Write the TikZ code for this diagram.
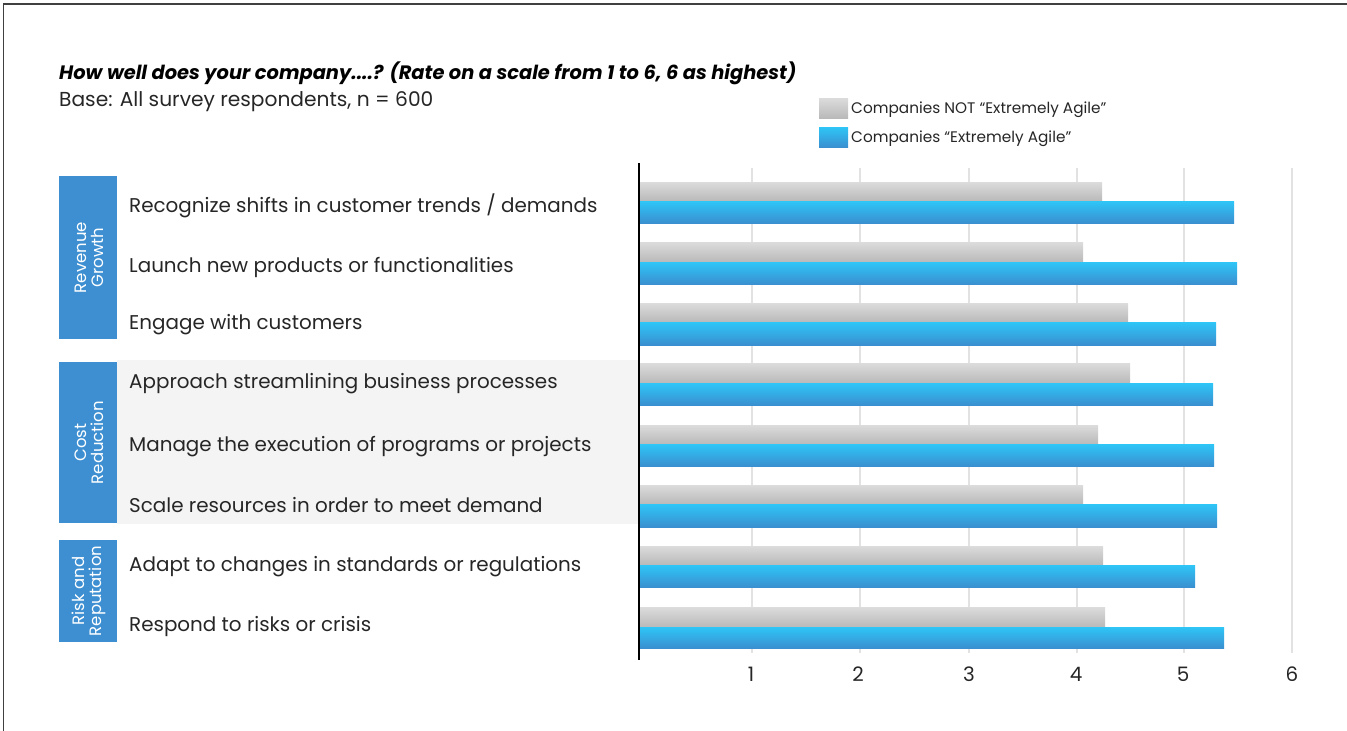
\documentclass[tikz,border=0pt]{standalone}
\usepackage{fontspec}
\setmainfont{Poppins}
\usepackage{tikz}
\usetikzlibrary{positioning}

\definecolor{groupblue}{HTML}{3D8FD1}
\definecolor{bluetop}{HTML}{2EC6F7}
\definecolor{bluebot}{HTML}{3A8FD0}
\definecolor{greytop}{HTML}{DCDCDC}
\definecolor{greybot}{HTML}{B9B9B9}
\definecolor{bandgrey}{HTML}{F4F4F4}
\definecolor{gridgrey}{HTML}{E2E2E2}

\begin{document}
\begin{tikzpicture}[x=1pt, y=-1pt]
\def\labelfontsize{\fontsize{19.9}{23}\selectfont}
\def\groupfontsize{\fontsize{16.5}{17}\selectfont}
\def\axisx{640}
\tikzset{
  rowlabel/.style={anchor=base west, inner sep=0pt, font=\labelfontsize, text=black!85},
  grouplabel/.style={rotate=90, align=center, inner sep=0pt, font=\groupfontsize, text=white},
  greybar/.style={top color=greytop, bottom color=greybot},
  bluebar/.style={top color=bluetop, bottom color=bluebot},
  ticklabel/.style={anchor=base, inner sep=0pt, font=\labelfontsize, text=black!85},
}
\useasboundingbox (0, 0) rectangle (1347, 731);

% frame (top and left only)
\draw[line width=1.5pt, black!75] (3.5, 731) -- (3.5, 4) -- (1347, 4);

% title
\node [anchor=base west, inner sep=0pt, font=\fontsize{19.4}{23}\selectfont\bfseries\itshape] (title) at (59, 79) {How well does your company....? (Rate on a scale from 1 to 6, 6 as highest)};
\node [anchor=base west, inner sep=0pt, font=\fontsize{20.2}{23}\selectfont, text=black!85] (base) at (59, 106) {Base: All survey respondents, n = 600};

% legend
\shade[greybar] (819, 98) rectangle (848, 118);
\shade[bluebar] (819, 127) rectangle (848, 147);
\node [anchor=base west, inner sep=0pt, font=\fontsize{15.3}{18}\selectfont, text=black!85] (legnot) at (851, 113.5) {Companies NOT “Extremely Agile”};
\node [anchor=base west, inner sep=0pt, font=\fontsize{15.3}{18}\selectfont, text=black!85] (legagile) at (851, 142.5) {Companies “Extremely Agile”};

% grey band behind cost reduction
\fill[bandgrey] (117, 360) rectangle (\axisx, 524);

% group boxes
\fill[groupblue] (59, 176) rectangle (117, 339);
\fill[groupblue] (59, 362) rectangle (117, 523);
\fill[groupblue] (59, 540) rectangle (117, 642);
\node [grouplabel] (revbox) at (89, 257.5) {Revenue\\Growth};
\node [grouplabel] (costbox) at (89, 442.5) {Cost\\Reduction};
\node [grouplabel] (riskbox) at (89, 591) {Risk and\\Reputation};

% row labels
\node [rowlabel] (lab1) at (129, 212) {Recognize shifts in customer trends / demands};
\node [rowlabel] (lab2) at (129, 272) {Launch new products or functionalities};
\node [rowlabel] (lab3) at (129, 329) {Engage with customers};
\node [rowlabel] (lab4) at (129, 388) {Approach streamlining business processes};
\node [rowlabel] (lab5) at (129, 451) {Manage the execution of programs or projects};
\node [rowlabel] (lab6) at (129, 512) {Scale resources in order to meet demand};
\node [rowlabel] (lab7) at (129, 571) {Adapt to changes in standards or regulations};
\node [rowlabel] (lab8) at (129, 631) {Respond to risks or crisis};

% grid lines
\draw[gridgrey, line width=1.5pt] (752, 168) -- (752, 653);
\draw[gridgrey, line width=1.5pt] (860, 168) -- (860, 653);
\draw[gridgrey, line width=1.5pt] (969, 168) -- (969, 653);
\draw[gridgrey, line width=1.5pt] (1077, 168) -- (1077, 653);
\draw[gridgrey, line width=1.5pt] (1184, 168) -- (1184, 653);
\draw[gridgrey, line width=1.5pt] (1292, 168) -- (1292, 653);

% bars
\shade[greybar] (\axisx, 182) rectangle (1102, 201);
\shade[bluebar] (\axisx, 201) rectangle (1234, 223);
\shade[greybar] (\axisx, 242) rectangle (1083, 262);
\shade[bluebar] (\axisx, 262) rectangle (1237, 284);
\shade[greybar] (\axisx, 303) rectangle (1128, 322);
\shade[bluebar] (\axisx, 322) rectangle (1216, 345);
\shade[greybar] (\axisx, 363) rectangle (1130, 383);
\shade[bluebar] (\axisx, 383) rectangle (1213, 405);
\shade[greybar] (\axisx, 425) rectangle (1098, 444);
\shade[bluebar] (\axisx, 444) rectangle (1214, 466);
\shade[greybar] (\axisx, 485) rectangle (1083, 504);
\shade[bluebar] (\axisx, 504) rectangle (1217, 527);
\shade[greybar] (\axisx, 546) rectangle (1103, 565);
\shade[bluebar] (\axisx, 565) rectangle (1195, 587);
\shade[greybar] (\axisx, 607) rectangle (1105, 627);
\shade[bluebar] (\axisx, 627) rectangle (1224, 648);

% axis
\draw[line width=2.5pt, black] (639, 163) -- (639, 660);

% tick labels
\node [ticklabel] (tick1) at (751, 681) {1};
\node [ticklabel] (tick2) at (858, 681) {2};
\node [ticklabel] (tick3) at (969, 681) {3};
\node [ticklabel] (tick4) at (1076, 681) {4};
\node [ticklabel] (tick5) at (1183, 681) {5};
\node [ticklabel] (tick6) at (1292, 681) {6};
\end{tikzpicture}
\end{document}
